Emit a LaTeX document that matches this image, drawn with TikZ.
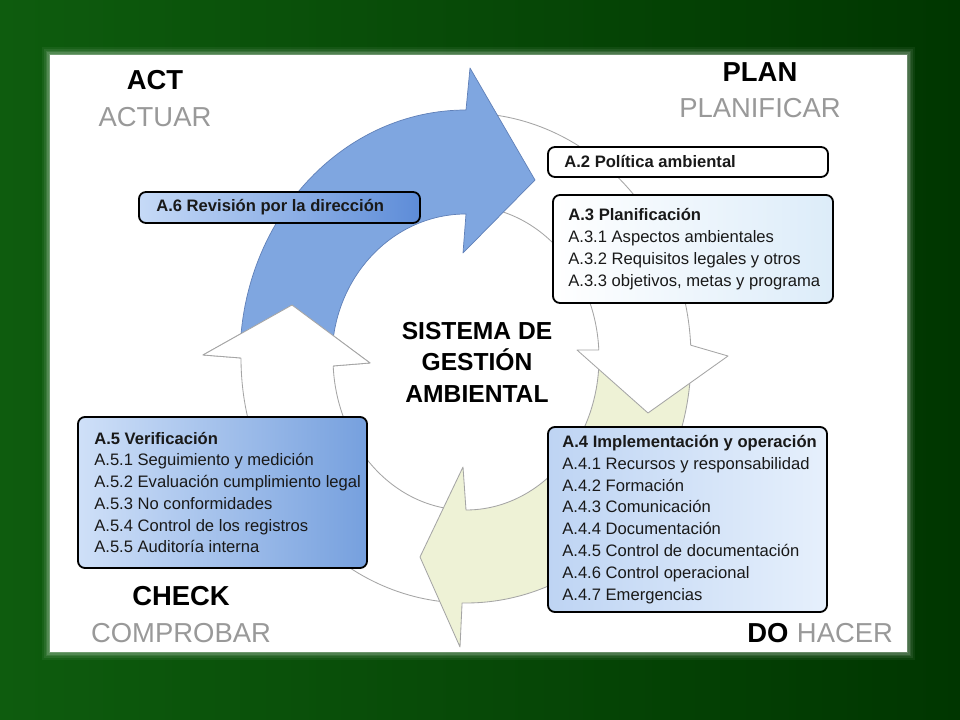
\documentclass[tikz,border=0pt]{standalone}
\usepackage{fontspec}
\setmainfont{Liberation Sans}
\usetikzlibrary{calc}

\definecolor{fondoA}{RGB}{14,92,14}
\definecolor{fondoB}{RGB}{0,54,0}
\definecolor{azulflecha}{RGB}{127,166,224}
\definecolor{bordeazul}{RGB}{96,128,184}
\definecolor{amarillo}{RGB}{238,242,214}
\definecolor{gris}{RGB}{153,153,153}
\definecolor{borde}{RGB}{165,165,165}
\definecolor{tinta}{RGB}{25,25,25}

\begin{document}
\begin{tikzpicture}[x=0.025cm, y=-0.025cm,
	caja/.style={draw=black, line width=1.3pt, rounded corners=5pt, inner sep=0pt},
	texto/.style={inner sep=0pt, anchor=west, align=left, text=tinta, font=\fontsize{11.8}{15.5}\selectfont},
	fase/.style={inner sep=0pt, anchor=base, font=\fontsize{19.5}{22}\selectfont\bfseries},
	fasegris/.style={inner sep=0pt, anchor=base, text=gris, font=\fontsize{19.5}{22}\selectfont},
	flechablanca/.style={fill=white, draw=borde, line width=0.6pt, line join=round},
	flechaamarilla/.style={fill=amarillo, draw=borde, line width=0.6pt, line join=round},
	flechaazul/.style={fill=azulflecha, draw=bordeazul, line width=0.5pt, line join=round}]

			\useasboundingbox (0,0) rectangle (960,720);
			%fondo verde y panel blanco
			\fill[left color=fondoA, right color=fondoB] (0,0) rectangle (960,720);
			\coordinate (panelNW) at (50,55);
			\coordinate (panelSE) at (907,652);
			\fill[white] (panelNW) rectangle (panelSE);
			\foreach \w/\o in {11/0.05, 8.5/0.07, 6/0.09, 4/0.12, 2/0.18}
				\draw[white, line width=\w pt, opacity=\o] (panelNW) rectangle (panelSE);

			\coordinate (centro) at (466,358);

			%flechas del ciclo
			\begin{scope}[shift={(centro)}]
			\draw[flechablanca] (92:225 and 245) arc[start angle=92, end angle=180, x radius=225, y radius=245]
				-- (-263,-3) -- (-174,-53) -- (-96,5) -- (177:133 and 152)
				arc[start angle=177, end angle=92, x radius=133, y radius=152] -- cycle;
			\draw[flechaamarilla] (-2:225 and 245) arc[start angle=-2, end angle=91, x radius=225, y radius=245]
				-- (-6,289) -- (-46,199) -- (-3,109) -- (90:133 and 152)
				arc[start angle=90, end angle=-2, x radius=133, y radius=152] -- cycle;
			\draw[flechablanca] (-90:225 and 245) arc[start angle=-90, end angle=-3, x radius=225, y radius=245]
				-- (262,-2) -- (182,55) -- (111,-8) -- (-3:133 and 152)
				arc[start angle=-3, end angle=-90, x radius=133, y radius=152] -- cycle;
			\draw[flechaazul] (-177:226 and 248) arc[start angle=-177, end angle=-90, x radius=226, y radius=248]
				-- (4,-290) -- (69,-178) -- (-3,-105) -- (-90:134 and 144)
				arc[start angle=-90, end angle=-177, x radius=134, y radius=144] -- cycle;
			%punta blanca izquierda encima de la cola azul
			\fill[white] (180:225 and 245) -- (-263,-3) -- (-174,-53) -- (-96,5) -- (177:133 and 152) -- cycle;
			\draw[borde, line width=0.6pt, line join=round] (180:225 and 245) -- (-263,-3) -- (-174,-53) -- (-96,5) -- (177:133 and 152);
			\end{scope}

			%cajas
			\node[caja, left color={rgb,255:red,198;green,218;blue,247}, right color={rgb,255:red,93;green,140;blue,216},
				minimum width=7.025cm, minimum height=0.775cm] (A6) at ($(centro)+(-186.5,-150.5)$) {};
			\node[caja, fill=white, minimum width=7cm, minimum height=0.75cm] (A2) at ($(centro)+(222,-196)$) {};
			\node[caja, left color=white, right color={rgb,255:red,220;green,236;blue,249},
				minimum width=7cm, minimum height=2.7cm] (A3) at ($(centro)+(227,-109)$) {};
			\node[caja, left color={rgb,255:red,190;green,212;blue,243}, right color={rgb,255:red,230;green,240;blue,252},
				minimum width=6.975cm, minimum height=4.625cm] (A4) at ($(centro)+(221.5,161.5)$) {};
			\node[caja, left color={rgb,255:red,207;green,224;blue,248}, right color={rgb,255:red,118;green,160;blue,222},
				minimum width=7.225cm, minimum height=3.775cm] (A5) at ($(centro)+(-243.5,134.5)$) {};

			\node[texto] (tA6) at ($(A6.west)+(18,0)$) {\bfseries A.6 Revisión por la dirección};
			\node[texto] (tA2) at ($(A2.west)+(17,0)$) {\bfseries A.2 Política ambiental};
			\node[texto] (tA3) at ($(A3.west)+(16,0)$) {{\bfseries A.3 Planificación}\\
				A.3.1 Aspectos ambientales\\
				A.3.2 Requisitos legales y otros\\
				A.3.3 objetivos, metas y programa};
			\node[texto] (tA4) at ($(A4.west)+(15,0)$) {{\bfseries A.4 Implementación y operación}\\
				A.4.1 Recursos y responsabilidad\\
				A.4.2 Formación\\
				A.4.3 Comunicación\\
				A.4.4 Documentación\\
				A.4.5 Control de documentación\\
				A.4.6 Control operacional\\
				A.4.7 Emergencias};
			\node[texto] (tA5) at ($(A5.west)+(17,0)$) {{\bfseries A.5 Verificación}\\
				A.5.1 Seguimiento y medición\\
				A.5.2 Evaluación cumplimiento legal\\
				A.5.3 No conformidades\\
				A.5.4 Control de los registros\\
				A.5.5 Auditoría interna};

			%centro y fases
			\node[inner sep=0pt, anchor=north, align=center, font=\fontsize{17.5}{22.3}\selectfont\bfseries] (sga)
				at ($(centro)+(11,-36)$) {SISTEMA DE\\GESTIÓN\\AMBIENTAL};

			\node[fase] (act) at ($(centro)+(-311,-268)$) {ACT};
			\node[fasegris] (actuar) at ($(centro)+(-311,-231)$) {ACTUAR};
			\node[fase] (plan) at ($(centro)+(294,-276)$) {PLAN};
			\node[fasegris] (planificar) at ($(centro)+(294,-240)$) {PLANIFICAR};
			\node[fase] (check) at ($(centro)+(-285,247)$) {CHECK};
			\node[fasegris] (comprobar) at ($(centro)+(-285,284)$) {COMPROBAR};
			\node[fase, anchor=base west] (do) at ($(centro)+(281,284)$) {DO};
			\node[fasegris, anchor=base west] (hacer) at ($(do.base east)+(8,0)$) {HACER};

\end{tikzpicture}
\end{document}
